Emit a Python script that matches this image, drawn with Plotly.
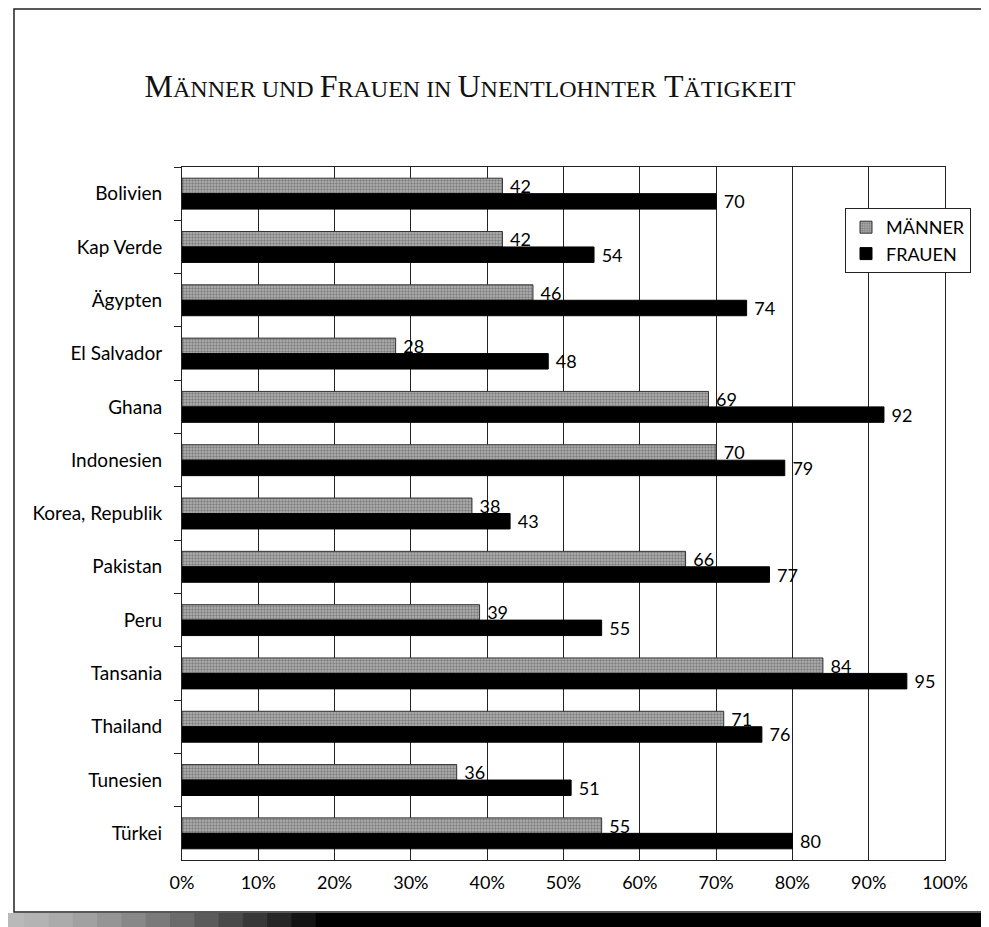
import plotly.graph_objects as go

categories = ["Bolivien", "Kap Verde", "Ägypten", "El Salvador", "Ghana", "Indonesien",
              "Korea, Republik", "Pakistan", "Peru", "Tansania", "Thailand", "Tunesien", "Türkei"]
maenner = [42, 42, 46, 28, 69, 70, 38, 66, 39, 84, 71, 36, 55]
frauen = [70, 54, 74, 48, 92, 79, 43, 77, 55, 95, 76, 51, 80]
x_ticks = [0, 10, 20, 30, 40, 50, 60, 70, 80, 90, 100]
x_tick_labels = [f"{v}%" for v in x_ticks]

OFF = 8  # page body margin
W, H = 981, 919
L, T = 182 - OFF, 167 - OFF
R, B = 989 - 945, 927 - 860
PW, PH = W - L - R, H - T - B

def px(x):  # page pixel -> paper
    return (x - OFF - L) / PW

def py(y):
    return (OFF + H - B - y) / PH

SANS = "Lato, 'Open Sans', sans-serif"

fig = go.Figure()
fig.add_trace(go.Bar(
    y=categories, x=maenner, name="MÄNNER", orientation="h",
    marker=dict(color="#a8a8a8", line=dict(color="#333", width=1),
                pattern=dict(shape=".", fgcolor="#4a4a4a", bgcolor="#b4b4b4", size=3, solidity=0.5)),
    text=[str(v) for v in maenner], texttemplate=" %{text}", textposition="outside",
    cliponaxis=False, constraintext="none",
    textfont=dict(family=SANS, size=18, color="black"),
))
fig.add_trace(go.Bar(
    y=categories, x=frauen, name="FRAUEN", orientation="h",
    marker=dict(color="black", line=dict(color="black", width=1)),
    text=[str(v) for v in frauen], texttemplate=" %{text}", textposition="outside",
    cliponaxis=False, constraintext="none",
    textfont=dict(family=SANS, size=18, color="black"),
))

big, small = 32, 24
def sc(word):
    return f"<span style='font-size:{big}px'>{word[0]}</span><span style='font-size:{small}px'>{word[1:]}</span>"

title_html = (sc("MÄNNER") + f"<span style='font-size:{small}px'> UND </span>" + sc("FRAUEN")
              + f"<span style='font-size:{small}px'> IN </span>" + sc("UNENTLOHNTER") + " " + sc("TÄTIGKEIT"))

shapes = []
# outer frame
shapes.append(dict(type="rect", xref="paper", yref="paper", x0=px(14), x1=px(986), y0=py(912), y1=py(9),
                   line=dict(color="#222", width=1.5), fillcolor="rgba(0,0,0,0)", layer="below"))
# bottom shadow band (gradient gray -> black)
steps = 14
for i in range(steps):
    x0 = i * 340 / steps
    x1 = (i + 1) * 340 / steps
    g = int(185 - 185 * (i / (steps - 1)) ** 1.4)
    shapes.append(dict(type="rect", xref="paper", yref="paper", x0=px(x0), x1=px(x1 + 1), y0=py(927), y1=py(913),
                       line=dict(width=0), fillcolor=f"rgb({g},{g},{g})", layer="below"))
shapes.append(dict(type="rect", xref="paper", yref="paper", x0=px(340), x1=px(989), y0=py(927), y1=py(913),
                   line=dict(width=0), fillcolor="black", layer="below"))
shapes.append(dict(type="rect", xref="paper", yref="paper", x0=px(986), x1=px(989), y0=py(927), y1=py(780),
                   line=dict(width=0), fillcolor="black", layer="below"))

fig.update_layout(
    width=W, height=H,
    margin=dict(l=L, r=R, t=T, b=B),
    paper_bgcolor="white", plot_bgcolor="white",
    barmode="group", bargap=0.42, bargroupgap=0.0,
    title=dict(text=title_html, x=(470 - OFF) / W, xanchor="center", xref="container",
               y=1 - (86 - OFF) / H, yanchor="middle", yref="container",
               font=dict(family="'Liberation Serif', 'DejaVu Serif', serif", size=big, color="#111")),
    xaxis=dict(range=[0, 100], tickvals=x_ticks, ticktext=x_tick_labels,
               showgrid=True, gridcolor="#222", gridwidth=1,
               showline=True, linecolor="#222", linewidth=1, mirror=True,
               ticks="outside", ticklen=6, tickcolor="rgba(0,0,0,0)",
               tickfont=dict(family=SANS, size=18, color="black"), zeroline=False),
    yaxis=dict(categoryorder="array", categoryarray=categories, autorange="reversed",
               showline=True, linecolor="#222", linewidth=1, mirror=True,
               ticks="outside", tickson="boundaries", ticklen=7, tickcolor="#222",
               tickfont=dict(family=SANS, size=19, color="black"), ticklabelstandoff=15),
    legend=dict(x=px(845), y=py(208), xanchor="left", yanchor="top",
                bordercolor="#222", borderwidth=1, bgcolor="white",
                font=dict(family=SANS, size=18, color="black"),
                itemwidth=30, tracegroupgap=0),
    shapes=shapes,
    showlegend=True,
)

fig.write_html("out.html")
